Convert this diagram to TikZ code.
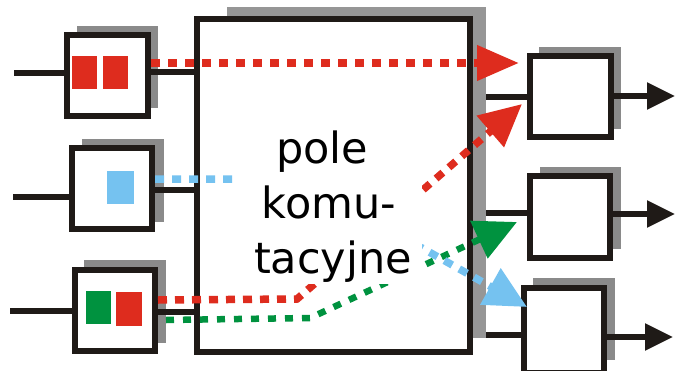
\documentclass[tikz,border=0pt]{standalone}
\usepackage{fontspec}
\setmainfont{DejaVu Sans}
\usetikzlibrary{arrows.meta}
\definecolor{myred}{RGB}{222,44,30}
\definecolor{myblue}{RGB}{117,194,240}
\definecolor{mygreen}{RGB}{0,146,63}
\definecolor{shad}{RGB}{138,138,138}
\definecolor{shadbig}{RGB}{150,150,150}
\definecolor{ink}{RGB}{31,26,23}
\begin{document}
\begin{tikzpicture}[x=1pt,y=-1pt,
  box/.style={draw=ink,line width=6pt,fill=white,inner sep=0pt},
  stub/.style={draw=ink,line width=5.5pt},
  outarrow/.style={stub,-{Triangle[length=28pt,width=26pt]}},
  flow/.style={line width=7.5pt,dash pattern=on 9pt off 8pt},
  head/.style={-{Triangle[length=42pt,width=40pt]}},
  lbl/.style={inner sep=0pt,font=\fontsize{43}{43}\selectfont,text=black},
]
\useasboundingbox (0,0) rectangle (675,370);
% shadows
\fill[shad] (77,26) rectangle (158,108);
\fill[shad] (82,139) rectangle (164,222);
\fill[shad] (84,260) rectangle (166,343);
\fill[shadbig] (227,7) rectangle (486,338);
\fill[shad] (539,47) rectangle (621,129);
\fill[shad] (540,167) rectangle (621,249);
\fill[shad] (533,278) rectangle (615,360);
% boxes
\node[box,minimum width=81pt,minimum height=81pt] (in1) at (107.5,75.5) {};
\node[box,minimum width=80pt,minimum height=81pt] (in2) at (112,188.5) {};
\node[box,minimum width=80pt,minimum height=81pt] (in3) at (115,310.5) {};
\node[box,minimum width=273pt,minimum height=333pt] (sw) at (333.5,185.5) {};
\node[box,minimum width=81pt,minimum height=81pt] (out1) at (570.5,96.5) {};
\node[box,minimum width=80pt,minimum height=82pt] (out2) at (570,217) {};
\node[box,minimum width=80pt,minimum height=85pt] (out3) at (564,330.5) {};
% packets
\fill[myred] (72,56) rectangle (97,89);
\fill[myred] (103,56) rectangle (128,89);
\fill[myblue] (107,171) rectangle (134,204);
\fill[mygreen] (86,291) rectangle (111,324);
\fill[myred] (116,292) rectangle (142,326);
% input stubs
\coordinate (a1) at (14,73);
\coordinate (a2) at (13,197);
\coordinate (a3) at (10,311);
\draw[stub] (a1) -- (a1 -| in1.west);
\draw[stub] (a2) -- (a2 -| in2.west);
\draw[stub] (a3) -- (a3 -| in3.west);
% inputs to switch
\coordinate (p1) at ([yshift=3.5pt]in1.east);
\coordinate (p2) at ([yshift=-1.5pt]in2.east);
\coordinate (p3) at ([yshift=-1.5pt]in3.east);
\draw[stub] (p1) -- (p1 -| sw.west);
\draw[stub] (p2) -- (p2 -| sw.west);
\draw[stub] (p3) -- (p3 -| sw.west);
% switch to outputs
\coordinate (q1) at (486,97);
\coordinate (q2) at (486,213);
\coordinate (q3) at (486,335);
\draw[stub] (q1) -- (q1 -| out1.west);
\draw[stub] (q2) -- (q2 -| out2.west);
\draw[stub] (q3) -- (q3 -| out3.west);
% outputs
\coordinate (r1) at (675,96);
\coordinate (r2) at (675,214);
\coordinate (r3) at (673,337);
\draw[outarrow] (r1 -| out1.east) -- (r1);
\draw[outarrow] (r2 -| out2.east) -- (r2);
\draw[outarrow] (r3 -| out3.east) -- (r3);
% flows
\coordinate (t1) at (519,63);
\draw[flow,myred,-{Triangle[length=42pt,width=34pt]}] (in1.east |- t1) -- (t1);
\coordinate (s2) at (158,300);
\coordinate (k2) at (297,299);
\coordinate (t2) at (522,104);
\draw[flow,myred,head] (s2) -- (k2) -- (t2);
\coordinate (s3) at (166,320);
\coordinate (k3) at (310,318);
\coordinate (t3) at (517,222);
\draw[flow,mygreen,line width=6.5pt,dash pattern=on 8pt off 9pt,head] (s3) -- (k3) -- (t3);
\coordinate (s4) at (155,179);
\coordinate (k4) at (250,179);
\coordinate (m4) at (422,248);
\coordinate (t4) at (527,307);
\draw[flow,myblue,head] (s4) -- (k4) -- (m4) -- (t4);
% label area
\fill[white] (237,120) rectangle (422,284);
\node[lbl,anchor=base] (l1) at (322,163) {pole};
\node[lbl,anchor=base] (l2) at (329,218) {komu-};
\node[lbl,anchor=base] (l3) at (333,273) {tacyjne};
\end{tikzpicture}
\end{document}
